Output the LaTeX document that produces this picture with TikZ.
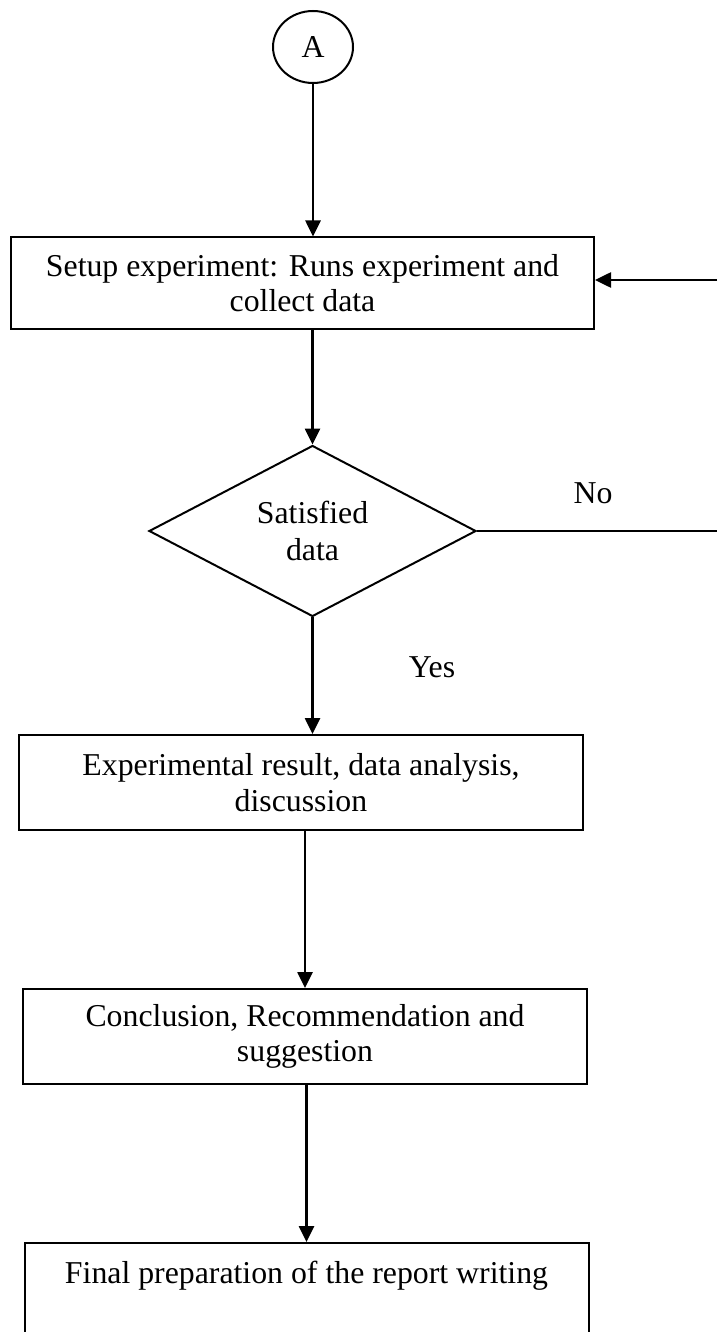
\documentclass[tikz,border=0pt]{standalone}
\usepackage{fontspec}
\setmainfont{Liberation Serif}
\usetikzlibrary{shapes.geometric,arrows.meta}

\begin{document}
\begin{tikzpicture}[x=1pt, y=-1pt,
        every node/.style={font=\fontsize{31.8}{35.5}\selectfont},
        stepbox/.style={draw, line width=2pt, minimum width=564pt, minimum height=95pt, align=center, inner sep=0pt},
        arr/.style={line width=2.6pt, -{Triangle[length=16pt, width=15pt]}}]
        \useasboundingbox (0, 0) rectangle (717, 1332);

        \node[draw, ellipse, line width=2pt, minimum width=80pt, minimum height=72pt, inner sep=0pt] (conn) at (313, 47) {A};

        \node[stepbox, minimum width=583pt, minimum height=91pt] (setup) at (302.5, 283) {Setup experiment: Runs experiment and\\collect data};
        \node[draw, diamond, line width=2pt, minimum width=327pt, minimum height=162pt, inner sep=0pt, align=center,
            font=\fontsize{31.8}{37}\selectfont] (check) at (312.5, 531) {Satisfied\\data};
        \node[stepbox] (result) at (301, 782.5) {Experimental result, data analysis,\\discussion};
        \node[stepbox] (concl) at (305, 1036.5) {Conclusion, Recommendation and\\suggestion};
        \node[stepbox] (final) at (306.5, 1290.5) {Final preparation of the report writing\\\mbox{}};

        \coordinate (noend) at (717, 531);
        \coordinate (back) at (717, 280);

        \draw[arr] (conn) -- (conn |- setup.north);
        \draw[arr] (check.north |- setup.south) -- (check.north);
        \draw[arr] (check.south) -- (check.south |- result.north);
        \draw[arr] (concl.north |- result.south) -- (concl.north);
        \draw[arr] (final.north |- concl.south) -- (final.north);

        \draw[line width=2.6pt] (check.east) -- (noend);
        \draw[arr] (back) -- (setup.east |- back);

        \node (no) at (593, 493) {No};
        \node (yes) at (432, 667) {Yes};
    \end{tikzpicture}
\end{document}
